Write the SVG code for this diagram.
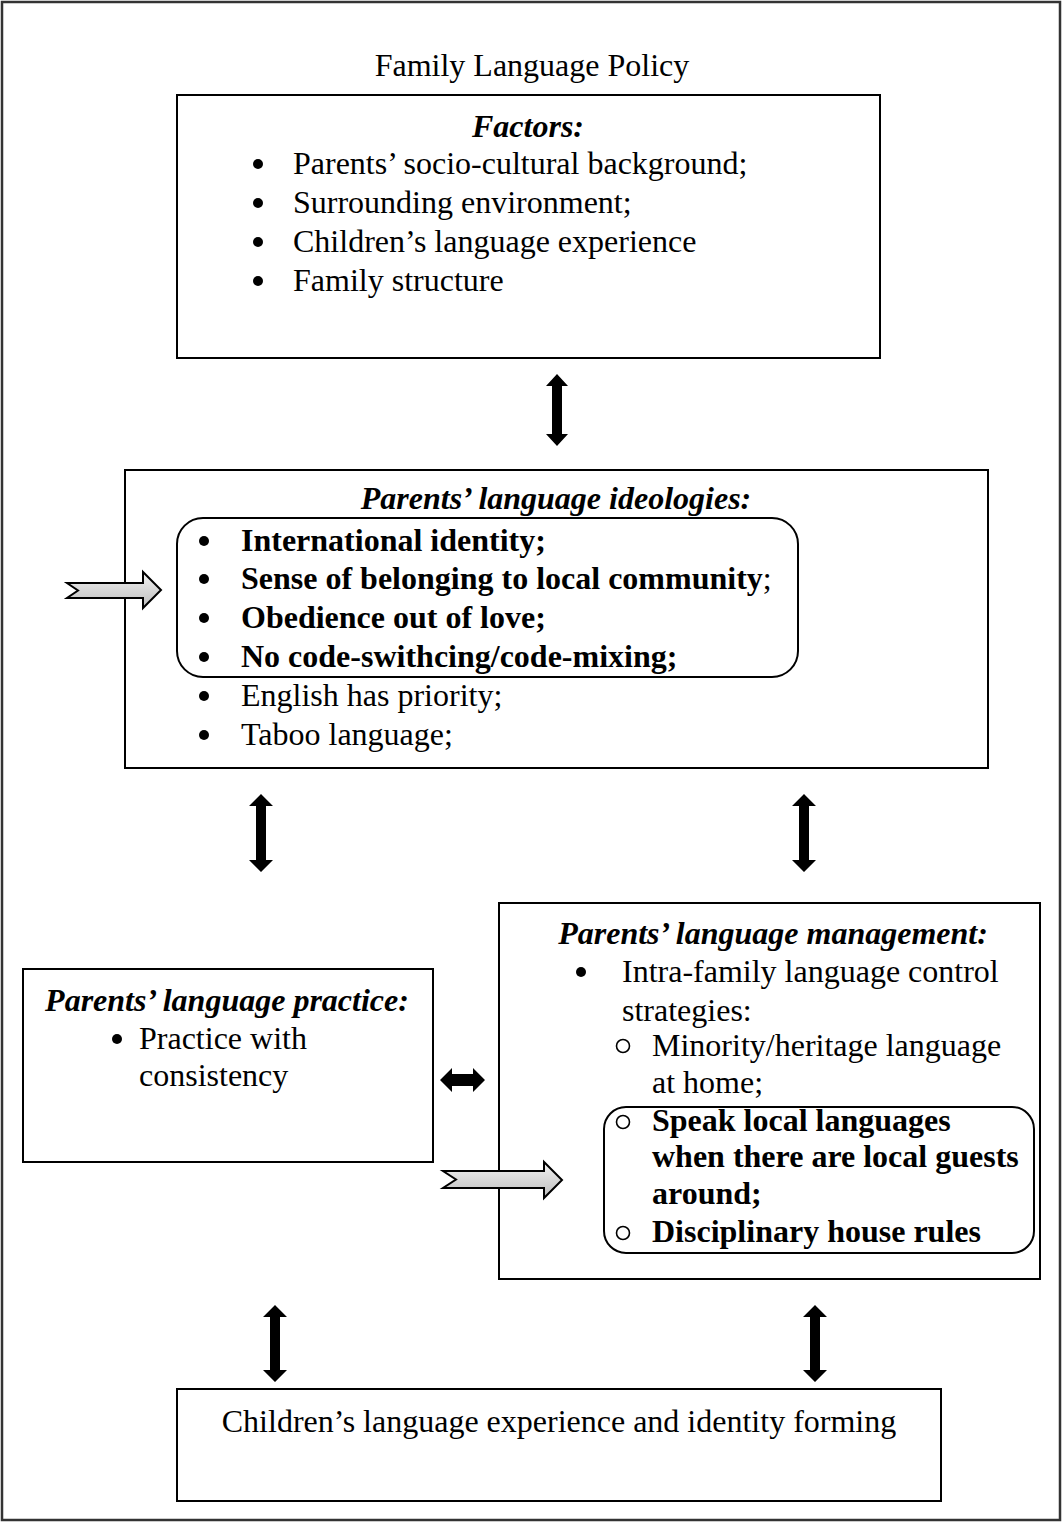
<svg xmlns="http://www.w3.org/2000/svg" width="1062" height="1522" viewBox="0 0 1062 1522">
<defs>
<style>
.box{fill:#fff;stroke:#000;stroke-width:2}
.rbox{fill:none;stroke:#000;stroke-width:2}
text{font-family:"Liberation Serif","Times New Roman",serif;font-size:32px;fill:#000}
.t{font-style:italic;font-weight:bold}
.b{font-weight:bold}
.dot{fill:#000}
.ring{fill:none;stroke:#000;stroke-width:1.6}
.dbl{fill:#000}
.gray{fill:url(#g);stroke:#000;stroke-width:2;stroke-linejoin:miter}
</style>
<linearGradient id="g" x1="0" y1="0" x2="0" y2="1">
<stop offset="0" stop-color="#f2f2f2"/>
<stop offset="1" stop-color="#bdbdbd"/>
</linearGradient>
</defs>
<rect x="0" y="0" width="1062" height="1522" fill="#fff"/>
<rect x="2" y="2" width="1058" height="1518" fill="none" stroke="#333" stroke-width="2.5"/>
<text x="532" y="76" text-anchor="middle">Family Language Policy</text>

<g id="factors">
<rect class="box" x="177" y="95" width="703" height="263"/>
<text class="t" x="528" y="137" text-anchor="middle">Factors:</text>
<circle class="dot" cx="258" cy="164" r="5"/><text x="293" y="174">Parents’ socio-cultural background;</text>
<circle class="dot" cx="258" cy="203" r="5"/><text x="293" y="213">Surrounding environment;</text>
<circle class="dot" cx="258" cy="242" r="5"/><text x="293" y="252">Children’s language experience</text>
<circle class="dot" cx="258" cy="281" r="5"/><text x="293" y="291">Family structure</text>
</g>

<g id="ideologies">
<rect class="box" x="125" y="470" width="863" height="298"/>
<text class="t" x="556" y="509" text-anchor="middle">Parents’ language ideologies:</text>
<rect class="rbox" x="177" y="518" width="621" height="159" rx="26"/>
<circle class="dot" cx="204" cy="541" r="5"/><text class="b" x="241" y="551">International identity;</text>
<circle class="dot" cx="204" cy="579" r="5"/><text x="241" y="589"><tspan class="b">Sense of belonging to local community</tspan>;</text>
<circle class="dot" cx="204" cy="618" r="5"/><text class="b" x="241" y="628">Obedience out of love;</text>
<circle class="dot" cx="204" cy="657" r="5"/><text class="b" x="241" y="667">No code-swithcing/code-mixing;</text>
<circle class="dot" cx="204" cy="696" r="5"/><text x="241" y="706">English has priority;</text>
<circle class="dot" cx="204" cy="735" r="5"/><text x="241" y="745">Taboo language;</text>
</g>

<g id="practice">
<rect class="box" x="23" y="969" width="410" height="193"/>
<text class="t" x="227" y="1011" text-anchor="middle">Parents’ language practice:</text>
<circle class="dot" cx="117" cy="1039" r="5"/><text x="139" y="1049">Practice with</text>
<text x="139" y="1086">consistency</text>
</g>

<g id="management">
<rect class="box" x="499" y="903" width="541" height="376"/>
<text class="t" x="773" y="944" text-anchor="middle">Parents’ language management:</text>
<circle class="dot" cx="581" cy="972" r="5"/><text x="622" y="982">Intra-family language control</text>
<text x="622" y="1021">strategies:</text>
<circle class="ring" cx="623" cy="1046" r="6.5"/><text x="652" y="1056">Minority/heritage language</text>
<text x="652" y="1093">at home;</text>
<rect class="rbox" x="604" y="1107" width="430" height="146" rx="22"/>
<circle class="ring" cx="623" cy="1122" r="6.5"/><text class="b" x="652" y="1131">Speak local languages</text>
<text class="b" x="652" y="1167">when there are local guests</text>
<text class="b" x="652" y="1204">around;</text>
<circle class="ring" cx="623" cy="1233" r="6.5"/><text class="b" x="652" y="1242">Disciplinary house rules</text>
</g>

<g id="children">
<rect class="box" x="177" y="1389" width="764" height="112"/>
<text x="559" y="1432" text-anchor="middle">Children’s language experience and identity forming</text>
</g>

<g id="connectors">
<polygon class="dbl" points="557,374 568,386 562,386 562,434 568,434 557,446 546,434 552,434 552,386 546,386"/>
<polygon class="dbl" points="261,794 273,806 266,806 266,860 273,860 261,872 249,860 256,860 256,806 249,806"/>
<polygon class="dbl" points="804,794 816,806 809,806 809,860 816,860 804,872 792,860 799,860 799,806 792,806"/>
<polygon class="dbl" points="275,1305 287,1317 280,1317 280,1370 287,1370 275,1382 263,1370 270,1370 270,1317 263,1317"/>
<polygon class="dbl" points="815,1305 827,1317 820,1317 820,1370 827,1370 815,1382 803,1370 810,1370 810,1317 803,1317"/>
<polygon class="dbl" points="440,1080 452,1068 452,1074 473,1074 473,1068 485,1080 473,1092 473,1086 452,1086 452,1092"/>
<polygon class="gray" points="67,583 143,583 143,572 161,590 143,608 143,598 67,598 78,590.5"/>
<polygon class="gray" points="443,1171 544,1171 544,1162 562,1180 544,1198 544,1188 443,1188 456,1179.5"/>
</g>
</svg>
